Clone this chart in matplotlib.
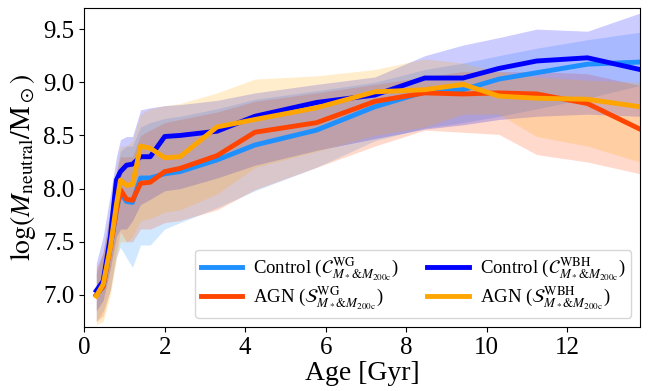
import matplotlib
matplotlib.use("Agg")
import matplotlib.pyplot as plt
import numpy as np

plt.rcParams['font.family'] = ['Liberation Serif', 'DejaVu Serif']
plt.rcParams['mathtext.fontset'] = 'stix'

# snapshot ages [Gyr]
age = [0.30, 0.47, 0.65, 0.80, 0.90, 1.05, 1.20, 1.40, 1.64, 2.00, 2.38,
       3.30, 4.24, 5.77, 7.22, 8.46, 9.41, 10.30, 11.24, 12.50, 13.80]

# control, WG (dodgerblue)
ctrl_wg = [7.00, 7.08, 7.45, 7.80, 7.96, 7.88, 7.87, 8.10, 8.10, 8.14, 8.16,
           8.27, 8.41, 8.55, 8.77, 8.91, 8.93, 9.03, 9.09, 9.17, 9.19]
ctrl_wg_hi = [7.20, 7.40, 7.80, 8.15, 8.35, 8.40, 8.40, 8.58, 8.62, 8.66, 8.68,
              8.75, 8.84, 8.92, 9.00, 9.12, 9.18, 9.25, 9.32, 9.40, 9.47]
ctrl_wg_lo = [6.75, 6.85, 7.05, 7.35, 7.45, 7.35, 7.26, 7.47, 7.47, 7.62, 7.68,
              7.82, 7.98, 8.20, 8.45, 8.57, 8.62, 8.68, 8.75, 8.85, 8.97]

# AGN, WG (orangered)
agn_wg = [7.00, 7.08, 7.45, 7.80, 7.99, 7.90, 7.89, 8.05, 8.06, 8.16, 8.19,
          8.31, 8.53, 8.62, 8.82, 8.90, 8.89, 8.90, 8.89, 8.80, 8.56]
agn_wg_hi = [7.25, 7.40, 7.80, 8.15, 8.30, 8.30, 8.30, 8.50, 8.55, 8.62, 8.65,
             8.72, 8.82, 8.90, 8.98, 9.05, 9.10, 9.10, 9.10, 9.08, 8.97]
agn_wg_lo = [6.75, 6.80, 7.05, 7.40, 7.60, 7.50, 7.50, 7.62, 7.62, 7.68, 7.70,
             7.80, 7.99, 8.20, 8.40, 8.55, 8.53, 8.51, 8.32, 8.25, 8.14]

# control, WBH (blue)
ctrl_wbh = [7.04, 7.13, 7.55, 8.08, 8.16, 8.22, 8.23, 8.30, 8.30, 8.49, 8.50,
            8.54, 8.68, 8.81, 8.88, 9.04, 9.04, 9.13, 9.20, 9.23, 9.12]
ctrl_wbh_hi = [7.30, 7.55, 7.95, 8.30, 8.46, 8.49, 8.49, 8.74, 8.76, 8.78, 8.79,
               8.83, 8.90, 8.98, 9.05, 9.25, 9.35, 9.42, 9.50, 9.48, 9.65]
ctrl_wbh_lo = [6.85, 6.95, 7.25, 7.55, 7.62, 7.62, 7.70, 7.85, 7.90, 7.98, 8.00,
               8.10, 8.22, 8.36, 8.47, 8.56, 8.60, 8.65, 8.68, 8.70, 8.68]

# AGN, WBH (orange)
agn_wbh = [6.99, 7.10, 7.45, 7.85, 8.08, 8.03, 8.04, 8.40, 8.38, 8.29, 8.30,
           8.58, 8.65, 8.76, 8.91, 8.93, 8.98, 8.87, 8.85, 8.84, 8.77]
agn_wbh_hi = [7.20, 7.40, 7.80, 8.20, 8.40, 8.40, 8.45, 8.70, 8.75, 8.78, 8.80,
              8.90, 9.03, 9.06, 9.12, 9.22, 9.18, 9.10, 9.05, 9.02, 9.00]
agn_wbh_lo = [6.72, 6.75, 7.00, 7.35, 7.50, 7.50, 7.55, 7.70, 7.72, 7.78, 7.80,
              7.95, 8.20, 8.35, 8.50, 8.58, 8.70, 8.70, 8.49, 8.40, 8.25]

fig = plt.figure(figsize=(6.63, 3.91), dpi=100)
ax = fig.add_axes([0.127, 0.164, 0.838, 0.816])

sub = r'_{M_*&M_{\rm 200c}}'
series = [
    (ctrl_wg, ctrl_wg_lo, ctrl_wg_hi, 'dodgerblue',
     r'Control ($\mathcal{C}^{\rm WG}' + sub + '$)'),
    (agn_wg, agn_wg_lo, agn_wg_hi, 'orangered',
     r'AGN ($\mathcal{S}^{\rm WG}' + sub + '$)'),
    (ctrl_wbh, ctrl_wbh_lo, ctrl_wbh_hi, 'blue',
     r'Control ($\mathcal{C}^{\rm WBH}' + sub + '$)'),
    (agn_wbh, agn_wbh_lo, agn_wbh_hi, 'orange',
     r'AGN ($\mathcal{S}^{\rm WBH}' + sub + '$)'),
]

for med, lo, hi, col, lab in series:
    ax.fill_between(age, lo, hi, color=col, alpha=0.2, lw=0)
for med, lo, hi, col, lab in series:
    ax.plot(age, med, color=col, lw=3.5, label=lab)

ax.set_xlim(0, 13.8)
ax.set_ylim(6.7, 9.7)
ax.set_xticks([0, 2, 4, 6, 8, 10, 12])
ax.set_yticks([7.0, 7.5, 8.0, 8.5, 9.0, 9.5])
ax.tick_params(labelsize=18)
ax.set_xlabel('Age [Gyr]', fontsize=20, labelpad=2)
ax.set_ylabel(r'$\log(M_{\rm neutral}/{\rm M}_\odot)$', fontsize=20, labelpad=4)

ax.legend(loc='lower right', ncol=2, fontsize=13.5, handlelength=2.2,
          columnspacing=1.5, handletextpad=0.6, labelspacing=0.1,
          borderpad=0.3, borderaxespad=0.0, bbox_to_anchor=(0.985, 0.028))

fig.savefig('out.png', dpi=100)
